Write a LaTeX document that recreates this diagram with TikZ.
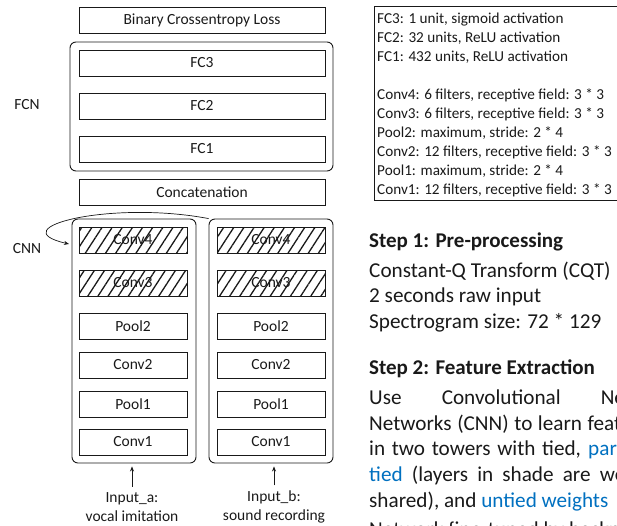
\documentclass[tikz,border=0pt]{standalone}
\usepackage{fontspec}
\setmainfont{Carlito}
\usetikzlibrary{arrows.meta,patterns.meta}
\definecolor{ink}{RGB}{25,25,25}
\definecolor{linkblue}{RGB}{0,112,192}
\tikzset{
  every node/.style={font=\fontsize{15.5}{19}\selectfont, text=ink},
  layer/.style={draw=ink, line width=0.9pt, minimum height=26pt, inner sep=0pt},
  wide/.style={layer, minimum width=246pt},
  narrow/.style={layer, minimum width=108pt},
  shaded/.style={narrow, pattern={Lines[angle=57,distance=8.5pt,line width=1.3pt]}, pattern color=ink},
  group/.style={draw=ink, line width=0.9pt, rounded corners=6pt, inner sep=0pt},
  arr/.style={-{Stealth[length=5pt,width=4pt]}, line width=0.7pt, draw=ink},
  spec/.style={anchor=base west, inner sep=0pt, font=\fontsize{15.2}{19}\selectfont},
  para/.style={anchor=base west, inner sep=0pt, font=\fontsize{21.2}{25.6}\selectfont},
  head/.style={anchor=base west, inner sep=0pt, font=\fontsize{21}{25.6}\selectfont\bfseries},
}
\begin{document}
\begin{tikzpicture}[x=1pt,y=-1pt]
\useasboundingbox (0,0) rectangle (617,525);
\clip (0,0) rectangle (617,525);

% loss and fully connected head
\node[wide] (bce) at (202,20) {Binary Crossentropy Loss};
\node[group, minimum width=263pt, minimum height=129pt] (fcn) at (201.5,106.5) {};
\node[wide] (fc3) at (202,63) {FC3};
\node[wide] (fc2) at (202,106) {FC2};
\node[wide] (fc1) at (202,149) {FC1};
\node[wide] (concat) at (202,192) {Concatenation};
\node (fcnlabel) at (27,105) {FCN};
\node (cnnlabel) at (27,249) {CNN};

% the two convolutional towers
\node[group, minimum width=124pt, minimum height=244pt] (ltower) at (134,341) {};
\node[group, minimum width=124pt, minimum height=244pt] (rtower) at (271,341) {};

\node[shaded] (aConv4) at (133,240) {Conv4};
\node[shaded] (aConv3) at (133,283) {Conv3};
\node[narrow] (aPool2) at (133,326) {Pool2};
\node[narrow] (aConv2) at (133,365) {Conv2};
\node[narrow] (aPool1) at (133,404) {Pool1};
\node[narrow] (aConv1) at (133,442) {Conv1};

\node[shaded] (bConv4) at (271,240) {Conv4};
\node[shaded] (bConv3) at (271,283) {Conv3};
\node[narrow] (bPool2) at (271,326) {Pool2};
\node[narrow] (bConv2) at (271,365) {Conv2};
\node[narrow] (bPool1) at (271,404) {Pool1};
\node[narrow] (bConv1) at (271,442) {Conv1};

% shared-weight hint
\coordinate (cnntip) at (69,244);
\draw[arr] (rtower.north west) .. controls (110,200) and (0,228) .. (cnntip);

% inputs
\node[align=center] (ina) at (132,507) {Input\_a:\\vocal imitation};
\node[align=center] (inb) at (274,507) {Input\_b:\\sound recording};
\draw[arr, shorten <=2pt, shorten >=3pt] (ina.north) -- (ina.north |- ltower.south);
\draw[arr, shorten <=2pt, shorten >=3pt] (inb.north) -- (inb.north |- rtower.south);

% layer specification box
\node[draw=ink, line width=0.9pt, minimum width=260pt, minimum height=194pt, anchor=north west, inner sep=0pt] (specbox) at (374,6) {};
\node[spec] (s1) at (377,23) {FC3: 1 unit, sigmoid activation};
\node[spec] (s2) at (377,42) {FC2: 32 units, ReLU activation};
\node[spec] (s3) at (377,61) {FC1: 432 units, ReLU activation};
\node[spec] (s4) at (377,99) {Conv4: 6 filters, receptive field: 3 * 3};
\node[spec] (s5) at (377,118) {Conv3: 6 filters, receptive field: 3 * 3};
\node[spec] (s6) at (377,137) {Pool2: maximum, stride: 2 * 4};
\node[spec] (s7) at (377,156) {Conv2: 12 filters, receptive field: 3 * 3};
\node[spec] (s8) at (377,175) {Pool1: maximum, stride: 2 * 4};
\node[spec] (s9) at (377,194) {Conv1: 12 filters, receptive field: 3 * 3};

% step descriptions
\node[head] (step1) at (369,247) {Step 1: Pre-processing};
\node[para] (p1) at (369,277.3) {Constant-Q Transform (CQT)};
\node[para] (p2) at (369,302.9) {2 seconds raw input};
\node[para] (p3) at (369,328.5) {Spectrogram size: 72 * 129};
\node[head] (step2) at (369,374) {Step 2: Feature Extraction};
\node[para] (q1) at (369,404.6) {\makebox[289pt][s]{Use Convolutional Neural}};
\node[para] (q2) at (369,430.2) {\makebox[289pt][s]{Networks (CNN) to learn features}};
\node[para] (q3) at (369,455.8) {\makebox[289pt][s]{in two towers with tied, \textcolor{linkblue}{partially}}};
\node[para] (q4) at (369,481.4) {\makebox[289pt][s]{\textcolor{linkblue}{tied} (layers in shade are weight}};
\node[para] (q5) at (369,507) {shared), and \textcolor{linkblue}{untied weights}};
\node[para] (q6) at (369,536) {Network fine-tuned by backpropagation};
\end{tikzpicture}
\end{document}
